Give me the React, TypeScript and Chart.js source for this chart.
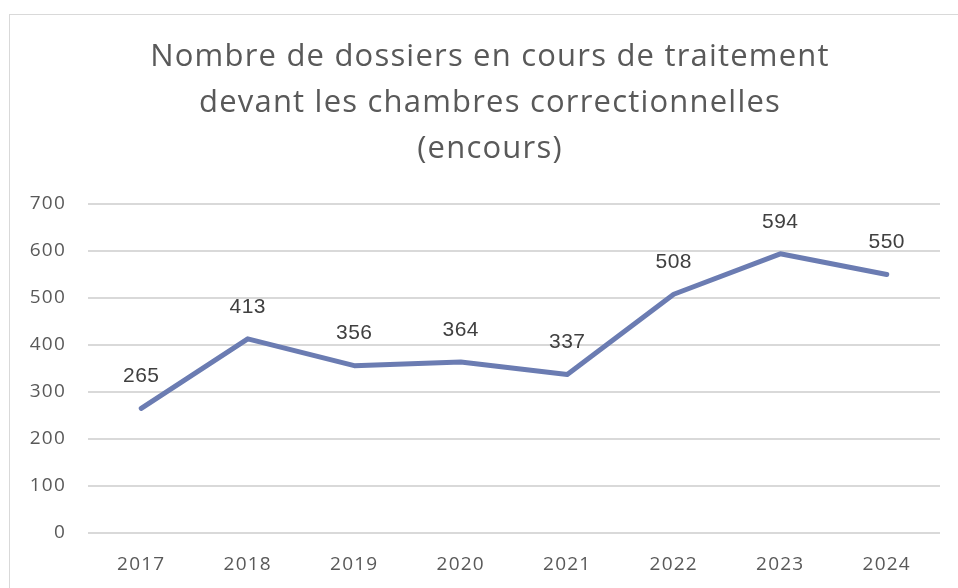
import React, { useEffect, useRef } from "react";
import { Chart, registerables } from "chart.js";

Chart.register(...registerables);

const categories = ["2017", "2018", "2019", "2020", "2021", "2022", "2023", "2024"];
const values = [265, 413, 356, 364, 337, 508, 594, 550];
const yMin = 0;
const yMax = 700;
const yStep = 100;
const titleLines = [
  "Nombre de dossiers en cours de traitement",
  "devant les chambres correctionnelles",
  "(encours)",
];

const spacingPlugin = {
  id: "letterSpacing",
  afterLayout(chart: any) {
    // centre the title on the framed card rather than on the full canvas
    if (chart.titleBlock) {
      chart.titleBlock.left = 40;
    }
  },
  beforeDraw(chart: any) {
    (chart.ctx as any).letterSpacing = "1.2px";
  },
  afterDraw(chart: any) {
    (chart.ctx as any).letterSpacing = "0px";
  },
};

const labelPlugin = {
  id: "pointLabels",
  afterDatasetsDraw(chart: any) {
    const ctx = chart.ctx;
    const meta = chart.getDatasetMeta(0);
    ctx.save();
    (ctx as any).letterSpacing = "0.5px";
    ctx.font = "21px 'Liberation Sans', Arial, sans-serif";
    ctx.fillStyle = "#404040";
    ctx.textAlign = "center";
    ctx.textBaseline = "middle";
    meta.data.forEach((pt: any, i: number) => {
      ctx.fillText(String(values[i]), pt.x, pt.y - 32);
    });
    ctx.restore();
  },
};

export default function App() {
  const ref = useRef<HTMLCanvasElement | null>(null);

  useEffect(() => {
    if (!ref.current) return;
    const chart = new Chart(ref.current, {
      type: "line",
      data: {
        labels: categories,
        datasets: [
          {
            data: values,
            borderColor: "#6b7cb2",
            borderWidth: 5,
            borderCapStyle: "round",
            borderJoinStyle: "round",
            pointRadius: 0,
            tension: 0,
            fill: false,
          },
        ],
      },
      options: {
        responsive: false,
        animation: false,
        layout: { padding: { left: 14, right: 18, top: 0, bottom: 0 } },
        plugins: {
          legend: { display: false },
          tooltip: { enabled: false },
          title: {
            display: true,
            text: titleLines,
            color: "#595959",
            font: { family: "'Open Sans', sans-serif", size: 31, weight: "normal", lineHeight: 1.49 },
            padding: { top: 34, bottom: 31.4 },
          },
        },
        scales: {
          x: {
            type: "category",
            offset: true,
            grid: { display: false, drawTicks: false },
            border: { display: false },
            ticks: {
              color: "#595959",
              padding: 20,
              font: { family: "'Open Sans', sans-serif", size: 19 },
              maxRotation: 0,
              autoSkip: false,
            },
            afterFit(scale: any) {
              scale.height = 55;
            },
          },
          y: {
            min: yMin,
            max: yMax,
            grid: { color: "#d9d9d9", lineWidth: 2, drawTicks: false },
            border: { display: false },
            ticks: {
              stepSize: yStep,
              color: "#595959",
              padding: 22,
              font: { family: "'Open Sans', sans-serif", size: 19 },
            },
            afterFit(scale: any) {
              scale.width = 74;
            },
          },
        },
      },
      plugins: [spacingPlugin, labelPlugin],
    });
    return () => chart.destroy();
  }, []);

  return (
    <div style={{ position: "fixed", left: 0, top: 0, width: 958, height: 588, overflow: "hidden", background: "#fff" }}>
      <div
        style={{
          position: "absolute",
          left: 9,
          top: 14,
          width: 970,
          height: 600,
          border: "1.5px solid #d9d9d9",
          boxSizing: "border-box",
        }}
      />
      <canvas ref={ref} width={958} height={588} style={{ position: "absolute", left: 0, top: 0, display: "block" }} />
    </div>
  );
}
